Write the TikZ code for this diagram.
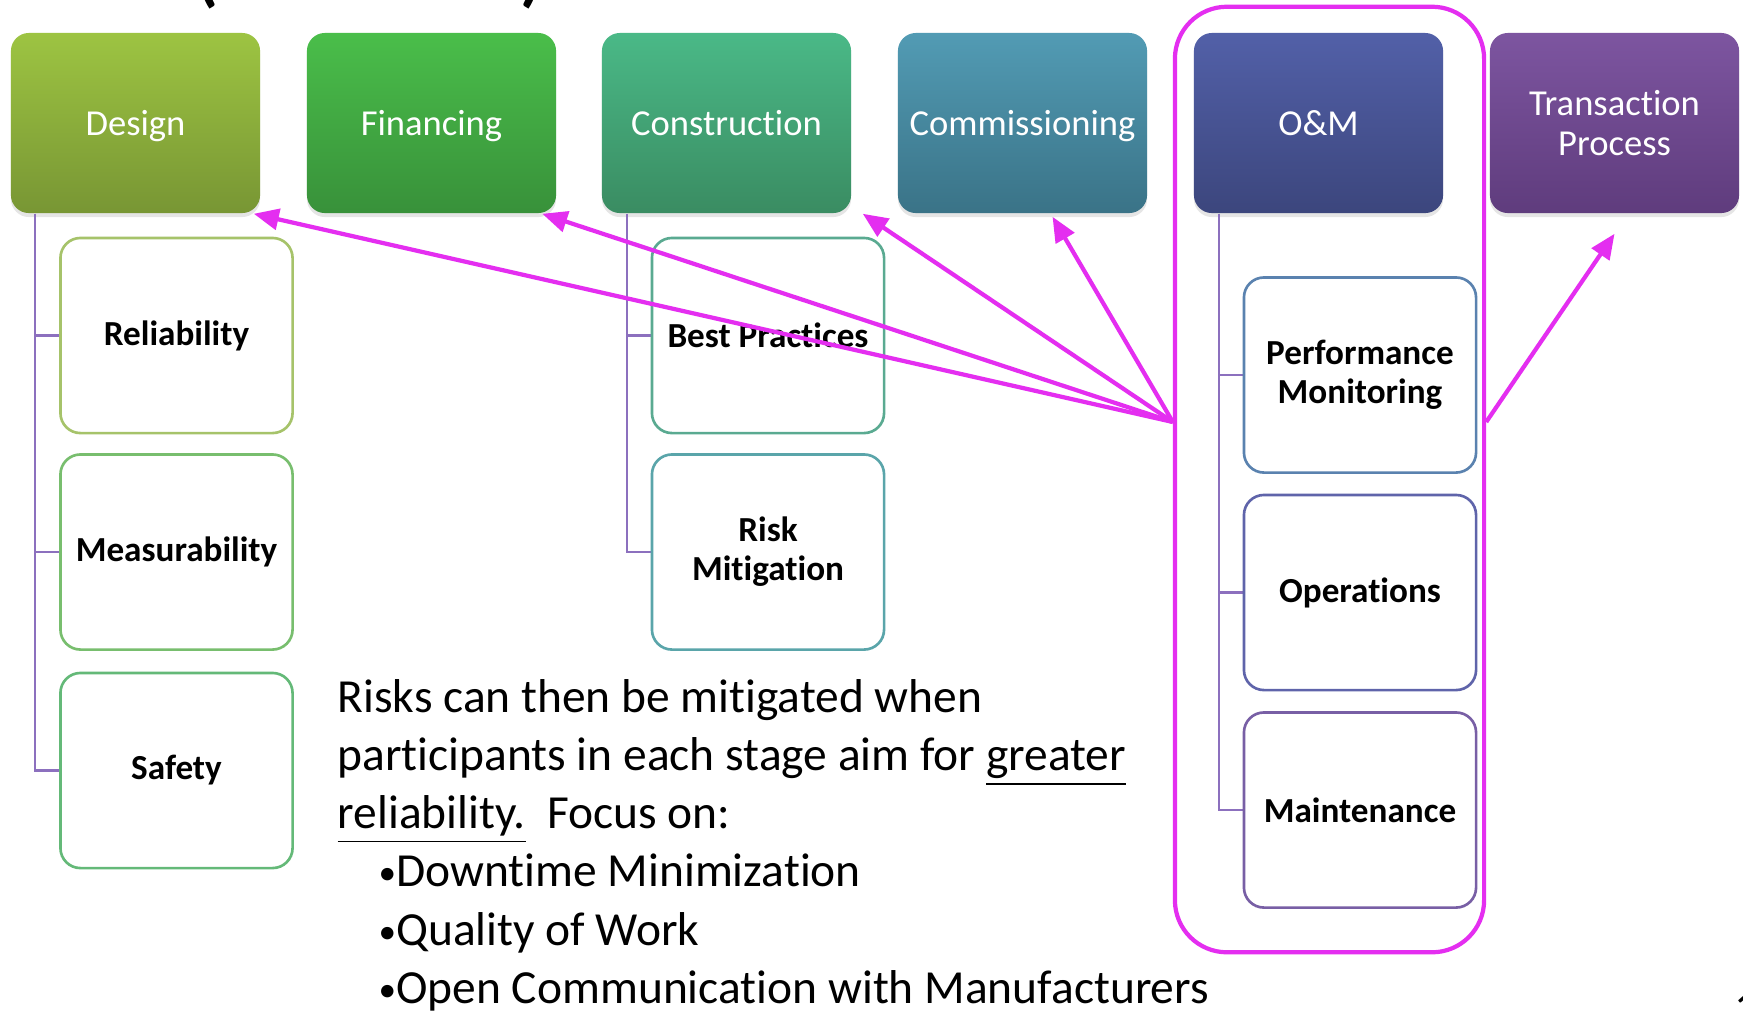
\documentclass[tikz,border=0pt]{standalone}
\usepackage{fontspec}
\setmainfont{Carlito}[Ligatures=NoCommon]
\usetikzlibrary{arrows.meta,shadows}
\definecolor{hot}{RGB}{228,46,240}
\definecolor{treeline}{RGB}{140,112,190}
\newcommand{\dotmark}{{\fontsize{10}{10}\selectfont\raisebox{0.02cm}{•}}}
\begin{document}
\begin{tikzpicture}[x=0.01cm,y=-0.01cm,
stage/.style={rounded corners=0.18cm,minimum width=2.49cm,minimum height=1.8cm,inner sep=0pt,text depth=0pt,text=white,align=center,font=\fontsize{10.4}{11.4}\selectfont,drop shadow={shadow xshift=0cm,shadow yshift=-0.04cm,opacity=0.2}},
sub/.style={draw,line width=0.75pt,fill=white,rounded corners=0.2cm,minimum width=2.32cm,minimum height=1.95cm,inner sep=0pt,align=center,font=\bfseries\fontsize{10}{11.1}\selectfont},
tree/.style={draw=treeline,line width=0.6pt},
ring/.style={draw=hot,line width=1.2pt,rounded corners=0.52cm,minimum width=3.09cm,minimum height=9.45cm,inner sep=0pt},
link/.style={draw=hot,line width=1.2pt,-{Triangle[length=0.25cm,width=0.21cm]}}]
\useasboundingbox[fill=white] (0,0) rectangle (1743,1011);
\node[anchor=south,inner sep=0pt,font=\bfseries\fontsize{20}{20}\selectfont] (lpar) at (207,9.5) {(};
\node[anchor=south,inner sep=0pt,font=\bfseries\fontsize{20}{20}\selectfont] (rpar) at (531,9.5) {)};
\node[ring] (omframe) at (1329.5,479.5) {};
\node[stage,top color={rgb,255:red,157;green,196;blue,66},bottom color={rgb,255:red,120;green,150;blue,52}] (design) at (135.5,123) {Design};
\node[stage,top color={rgb,255:red,74;green,190;blue,74},bottom color={rgb,255:red,56;green,145;blue,58}] (financing) at (431.5,123) {Financing};
\node[stage,top color={rgb,255:red,74;green,185;blue,135},bottom color={rgb,255:red,58;green,140;blue,98}] (construction) at (726.5,123) {Construction};
\node[stage,top color={rgb,255:red,82;green,155;blue,180},bottom color={rgb,255:red,58;green,115;blue,135}] (commissioning) at (1022.5,123) {Commissioning};
\node[stage,top color={rgb,255:red,82;green,96;blue,168},bottom color={rgb,255:red,60;green,70;blue,125}] (om) at (1318.5,123) {O\&M};
\node[stage,top color={rgb,255:red,125;green,85;blue,160},bottom color={rgb,255:red,95;green,60;blue,125}] (transaction) at (1614.5,123) {Transaction\\Process};
\draw[tree] ([xshift=0.25cm]design.south west) |- (176.5,770.5);
\draw[tree] ([xshift=0.25cm]design.south west) |- (176.5,552);
\draw[tree] ([xshift=0.25cm]design.south west) |- (176.5,335.5);
\draw[tree] ([xshift=0.255cm]construction.south west) |- (768,552);
\draw[tree] ([xshift=0.255cm]construction.south west) |- (768,335.5);
\draw[tree] ([xshift=0.26cm]om.south west) |- (1360,810);
\draw[tree] ([xshift=0.26cm]om.south west) |- (1360,592.5);
\draw[tree] ([xshift=0.26cm]om.south west) |- (1360,375);
\node[sub,draw={rgb,255:red,166;green,195;blue,106}] (reliability) at (176.5,335.5) {Reliability};
\node[sub,draw={rgb,255:red,120;green,190;blue,110}] (measurability) at (176.5,552) {Measurability};
\node[sub,draw={rgb,255:red,100;green,185;blue,120}] (safety) at (176.5,770.5) {Safety};
\node[sub,draw={rgb,255:red,90;green,170;blue,145}] (practices) at (768,335.5) {Best Practices};
\node[sub,draw={rgb,255:red,90;green,165;blue,170}] (mitigation) at (768,552) {Risk\\Mitigation};
\node[sub,draw={rgb,255:red,90;green,130;blue,175}] (monitoring) at (1360,375) {Performance\\Monitoring};
\node[sub,draw={rgb,255:red,95;green,100;blue,170}] (operations) at (1360,592.5) {Operations};
\node[sub,draw={rgb,255:red,120;green,95;blue,165}] (maintenance) at (1360,810) {Maintenance};
\node[anchor=base west,align=left,inner sep=0pt,font=\fontsize{13.5}{16.5}\selectfont] (note) at (337,1003) {Risks can then be mitigated when\\participants in each stage aim for \underline{greater}\\\underline{reliability.}\ \ Focus on:\\\hspace*{0.41cm}\dotmark Downtime Minimization\\\hspace*{0.41cm}\dotmark Quality of Work\\\hspace*{0.41cm}\dotmark Open Communication with Manufacturers};
\node[anchor=north west,inner sep=0pt,font=\fontsize{13.5}{16.5}\selectfont] (pageno) at (1734,992) {1};
\coordinate (hub) at ([yshift=0.575cm]omframe.west);
\coordinate (hubr) at ([yshift=0.575cm]omframe.east);
\draw[link] (hub) -- ([xshift=-0.07cm]design.south east);
\draw[link] (hub) -- ([xshift=-0.145cm]financing.south east);
\draw[link] (hub) -- ([xshift=0.11cm]construction.south east);
\draw[link] (hub) -- ([xshift=0.3cm,yshift=-0.03cm]commissioning.south);
\draw[link] (hubr) -- ([yshift=-0.2cm]transaction.south);
\end{tikzpicture}
\end{document}
